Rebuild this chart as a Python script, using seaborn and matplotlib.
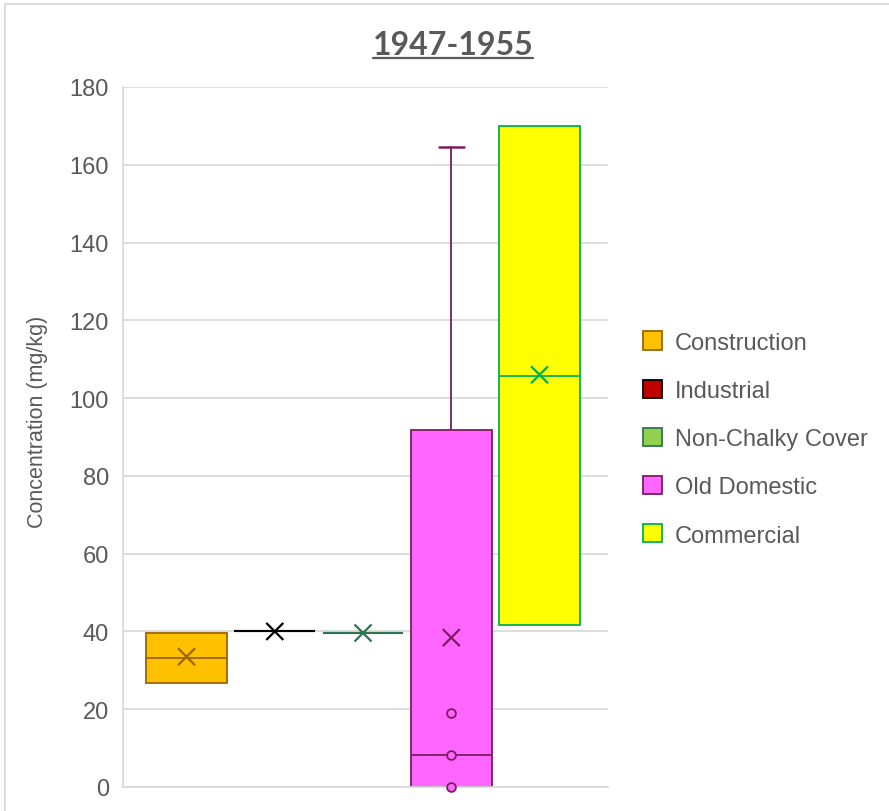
import matplotlib
matplotlib.use("Agg")
import matplotlib.pyplot as plt
import seaborn as sns
import numpy as np
from matplotlib.patches import Patch
from matplotlib.lines import Line2D

# ---- data ----
categories = ["Construction", "Industrial", "Non-Chalky Cover", "Old Domestic", "Commercial"]
q1_vals = [26.7, 40.0, 39.6, 0.0, 41.7]
median_vals = [33.3, 40.0, 39.6, 8.3, 105.8]
q3_vals = [39.6, 40.0, 39.6, 91.8, 169.9]
whisker_low = [26.7, 40.0, 39.6, 0.0, 41.7]
whisker_high = [39.6, 40.0, 39.6, 164.7, 169.9]
mean_vals = [33.5, 40.0, 39.6, 38.4, 106.0]
outlier_vals = [[], [], [], [19.0, 8.3, 0.0], []]
title_text = "1947-1955"
y_label = "Concentration (mg/kg)"
y_ticks = [0, 20, 40, 60, 80, 100, 120, 140, 160, 180]

face_colors = ["#FFC000", "#C00000", "#92D050", "#FF66FF", "#FFFF00"]
edge_colors = ["#9C6500", "#000000", "#2E7550", "#7A1E5E", "#00B050"]
line_colors = ["#9C6500", "#000000", "#2E7550", "#7A1E5E", "#00B050"]

sns.set_theme(style="white")
plt.rcParams["font.family"] = ["Liberation Sans", "DejaVu Sans"]

W, H, DPI = 889, 812, 100
fig = plt.figure(figsize=(W / DPI, H / DPI), dpi=DPI)
ax = fig.add_axes([123 / W, (H - 788) / H, (608 - 123) / W, 700 / H])

positions = np.arange(len(categories))
stats = []
for i, c in enumerate(categories):
    stats.append(dict(label=c, q1=q1_vals[i], med=median_vals[i], q3=q3_vals[i],
                      whislo=whisker_low[i], whishi=whisker_high[i],
                      mean=mean_vals[i], fliers=np.array(outlier_vals[i])))

caps = [0.0 if whisker_high[i] == q3_vals[i] else 0.28 for i in range(len(categories))]
res = ax.bxp(stats, positions=positions, widths=0.915, patch_artist=True,
             showmeans=False, showfliers=False, capwidths=caps, manage_ticks=False)
for i in range(len(categories)):
    res["boxes"][i].set_facecolor(face_colors[i])
    res["boxes"][i].set_edgecolor(edge_colors[i])
    res["boxes"][i].set_linewidth(1.3)
    res["medians"][i].set_color(edge_colors[i])
    res["medians"][i].set_linewidth(1.3)
    for w in res["whiskers"][2 * i:2 * i + 2]:
        w.set_color(line_colors[i]); w.set_linewidth(1.3)
    for cp in res["caps"][2 * i:2 * i + 2]:
        cp.set_color(line_colors[i]); cp.set_linewidth(1.8)
    if q1_vals[i] == q3_vals[i]:
        res["boxes"][i].set_linewidth(1.5)
        res["medians"][i].set_linewidth(1.5)

# mean markers
sns.scatterplot(x=positions, y=mean_vals, hue=categories, palette=line_colors,
                marker="x", s=150, linewidth=1.6, legend=False, ax=ax, zorder=4)

# outliers
ox, oy = [], []
for i, vals in enumerate(outlier_vals):
    for v in vals:
        ox.append(positions[i]); oy.append(v)
sns.scatterplot(x=ox, y=oy, marker="o", s=40, facecolor=face_colors[3],
                edgecolor=edge_colors[3], linewidth=1.3, legend=False, ax=ax,
                zorder=4, clip_on=False)

ax.set_xlim(-0.72, 4.776)
ax.set_ylim(0, 180)
ax.set_yticks(y_ticks)
ax.set_xticks([])
ax.tick_params(axis="y", length=0, pad=10, labelsize=17, labelcolor="#595959")
ax.yaxis.grid(True, color="#D9D9D9", linewidth=1.3)
ax.set_axisbelow(True)
for s in ["top", "right"]:
    ax.spines[s].set_visible(False)
for s in ["left", "bottom"]:
    ax.spines[s].set_color("#D9D9D9")
    ax.spines[s].set_linewidth(1.3)

ax.set_ylabel(y_label, fontsize=15.5, color="#595959")
ax.yaxis.set_label_coords(-0.155, 0.523)

# title with underline
t = fig.text(453 / W, (H - 55) / H, title_text, ha="center", va="baseline",
             fontsize=23, fontweight="bold", color="#595959",
             family=["Lato", "DejaVu Sans"])
fig.canvas.draw()
bb = t.get_window_extent()
uy = (H - 59) / H
fig.add_artist(Line2D([bb.x0 / W, bb.x1 / W], [uy, uy], color="#595959", linewidth=1.6))

# legend
handles = [Patch(facecolor=face_colors[i], edgecolor=edge_colors[i], linewidth=1.3)
           for i in range(len(categories))]
fig.legend(handles, categories, loc="center left", bbox_to_anchor=(643 / W, (H - 440) / H),
           frameon=False, fontsize=17, labelcolor="#595959", handlelength=0.8,
           handleheight=0.8, handletextpad=0.55, labelspacing=1.1,
           borderpad=0, borderaxespad=0)

# chart border (top and left visible)
fig.add_artist(Line2D([5 / W, 1], [(H - 5) / H, (H - 5) / H], color="#D9D9D9", linewidth=1.3))
fig.add_artist(Line2D([5 / W, 5 / W], [0, (H - 5) / H], color="#D9D9D9", linewidth=1.3))

fig.savefig("out.png", dpi=DPI)
